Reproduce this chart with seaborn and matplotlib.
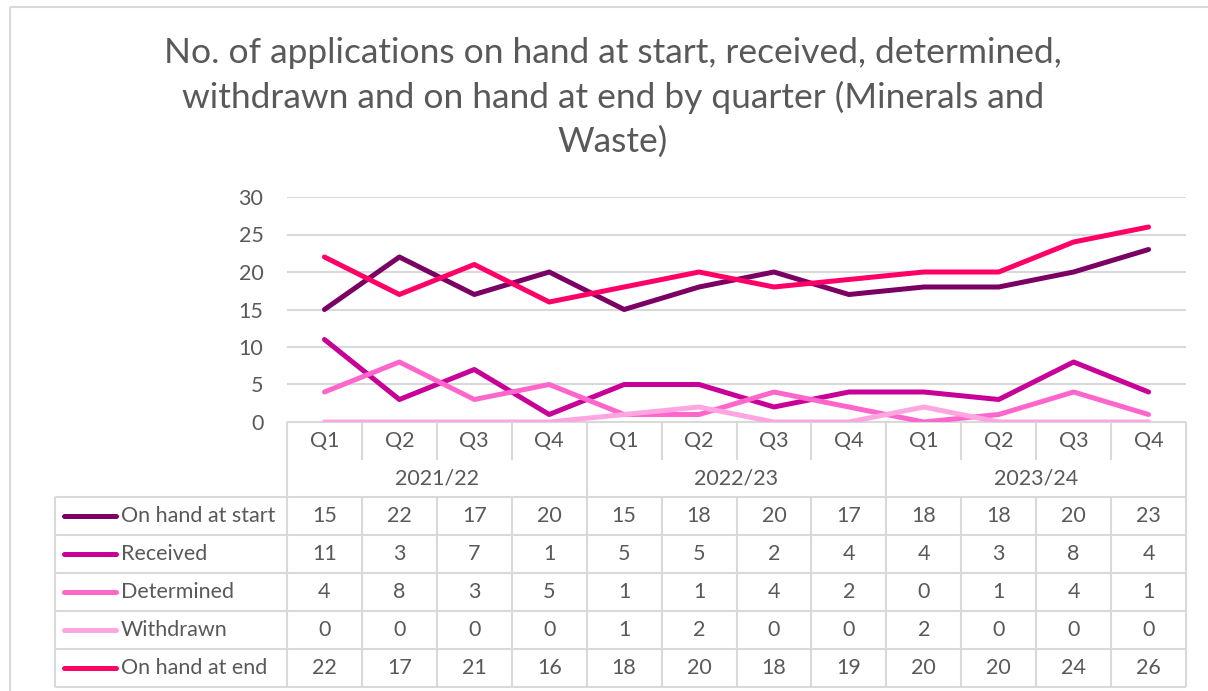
import matplotlib
matplotlib.use("Agg")
import matplotlib.pyplot as plt
import seaborn as sns
import pandas as pd
import numpy as np

years = ["2021/22", "2022/23", "2023/24"]
quarters = ["Q1", "Q2", "Q3", "Q4"]
series_names = ["On hand at start", "Received", "Determined", "Withdrawn", "On hand at end"]
on_hand_start = [15, 22, 17, 20, 15, 18, 20, 17, 18, 18, 20, 23]
received = [11, 3, 7, 1, 5, 5, 2, 4, 4, 3, 8, 4]
determined = [4, 8, 3, 5, 1, 1, 4, 2, 0, 1, 4, 1]
withdrawn = [0, 0, 0, 0, 1, 2, 0, 0, 2, 0, 0, 0]
on_hand_end = [22, 17, 21, 16, 18, 20, 18, 19, 20, 20, 24, 26]
colors = ["#7A0063", "#C80098", "#FF66CC", "#FFA6E2", "#FF0066"]
title = "No. of applications on hand at start, received, determined,\nwithdrawn and on hand at end by quarter (Minerals and\nWaste)"

values = [on_hand_start, received, determined, withdrawn, on_hand_end]
n = len(on_hand_start)
df = pd.concat([pd.DataFrame({"idx": np.arange(n), "value": v, "series": s})
                for s, v in zip(series_names, values)], ignore_index=True)

sns.set_theme(style="white")
plt.rcParams['font.family'] = ['Lato', 'DejaVu Sans']
TXT = "#595959"
GRID = "#D9D9D9"

W, H = 1208, 691
fig = plt.figure(figsize=(W / 100, H / 100), dpi=100)

def fx(x): return x / W
def fy(y): return 1 - y / H

L, R, T, B = 287, 1186, 197, 422
ax = fig.add_axes([fx(L), fy(B), fx(R) - fx(L), fy(T) - fy(B)])
LW = 3.6
sns.lineplot(data=df, x="idx", y="value", hue="series", palette=colors,
             hue_order=series_names, ax=ax, linewidth=LW, legend=False,
             solid_capstyle="round", sort=False)
for line in ax.lines:
    line.set_solid_joinstyle("round")
ax.set_xlim(-0.5, n - 0.5)
ax.set_ylim(0, 30)
ax.set_yticks(range(0, 31, 5))
ax.yaxis.grid(True, color=GRID, linewidth=1.5)
ax.set_axisbelow(True)
for s in ax.spines.values():
    s.set_visible(False)
ax.set_xticks([])
ax.set_xlabel("")
ax.set_ylabel("")
fs = 15.5
ax.tick_params(axis="y", length=0, labelsize=fs, labelcolor=TXT, pad=17)
for lab in ax.get_yticklabels():
    lab.set_horizontalalignment("right")

# table overlay in pixel coordinates
tax = fig.add_axes([0, 0, 1, 1], zorder=-1)
tax.set_xlim(0, W)
tax.set_ylim(H, 0)
tax.axis("off")
cw = (R - L) / n
xb = [L + i * cw for i in range(n + 1)]
rows = [422, 460, 497, 535, 573, 611, 649, 687]
LEFT = 55
lw = 1.5
kw = dict(color=GRID, linewidth=lw, solid_capstyle="butt")

# border of chart
tax.plot([10, 10], [7, H], **kw)
tax.plot([10, W], [7, 7], **kw)

# axis line
tax.plot([L, R], [rows[0], rows[0]], **kw)
# quarter separators
for i in range(n + 1):
    tax.plot([xb[i], xb[i]], [rows[0], rows[1]], **kw)
# year separators through year row
for i in range(0, n + 1, 4):
    tax.plot([xb[i], xb[i]], [rows[1], rows[2]], **kw)
# data rows
for y in rows[2:]:
    tax.plot([LEFT, R], [y, y], **kw)
for x in [LEFT] + xb:
    tax.plot([x, x], [rows[2], rows[-1]], **kw)

for i in range(n):
    cx = (xb[i] + xb[i + 1]) / 2
    tax.text(cx, (rows[0] + rows[1]) / 2, quarters[i % 4], ha="center", va="center",
             fontsize=fs, color=TXT)
for j, yr in enumerate(years):
    cx = (xb[4 * j] + xb[4 * j + 4]) / 2
    tax.text(cx, (rows[1] + rows[2]) / 2, yr, ha="center", va="center",
             fontsize=fs, color=TXT)
for r, (name, vals, c) in enumerate(zip(series_names, values, colors)):
    cy = (rows[2 + r] + rows[3 + r]) / 2
    tax.plot([64, 116], [cy, cy], color=c, linewidth=LW, solid_capstyle="round")
    tax.text(121, cy, name, ha="left", va="center", fontsize=fs, color=TXT)
    for i, v in enumerate(vals):
        cx = (xb[i] + xb[i + 1]) / 2
        tax.text(cx, cy, str(v), ha="center", va="center", fontsize=fs, color=TXT)

fig.text(fx(613), fy(97), title, ha="center", va="center", fontsize=25.5,
         color=TXT, linespacing=1.44)

fig.savefig("out.png", dpi=100, facecolor="white")
